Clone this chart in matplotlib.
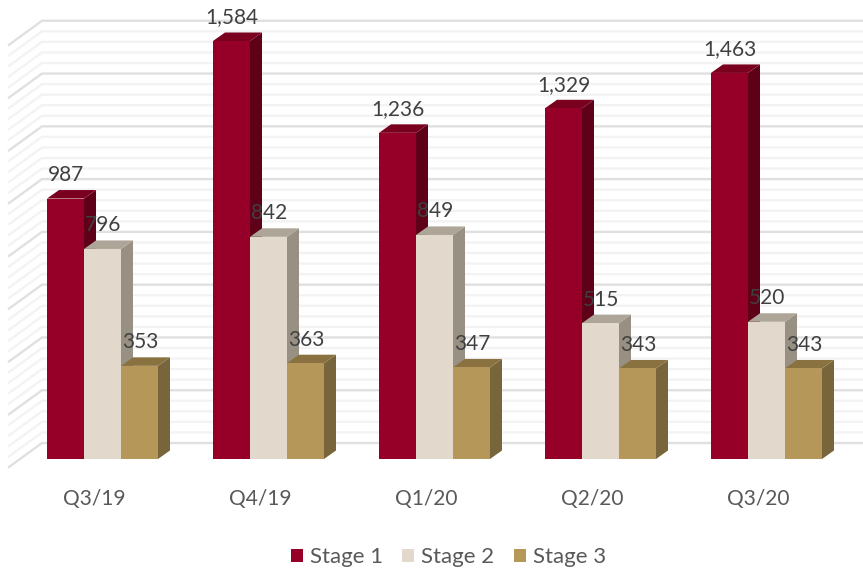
import matplotlib
matplotlib.use("Agg")
import matplotlib.pyplot as plt
from matplotlib.patches import Polygon, Patch

categories = ["Q3/19", "Q4/19", "Q1/20", "Q2/20", "Q3/20"]
series_names = ["Stage 1", "Stage 2", "Stage 3"]
stage1 = [987, 1584, 1236, 1329, 1463]
stage2 = [796, 842, 849, 515, 520]
stage3 = [353, 363, 347, 343, 343]
labels1 = ["987", "1,584", "1,236", "1,329", "1,463"]
labels2 = ["796", "842", "849", "515", "520"]
labels3 = ["353", "363", "347", "343", "343"]
series = [stage1, stage2, stage3]
series_labels = [labels1, labels2, labels3]

front = ["#960028", "#e3d8cc", "#b5975a"]
side = ["#5f0019", "#989083", "#78653c"]
top = ["#7a0020", "#ada598", "#8a7240"]

W, H = 863, 569
GROUP_PX = 166.0
PX_PER_UNIT = 418 / 1584
X0_PX = 102.5   # pixel of category 0 centre
Y0_PX = 459.0   # pixel of value 0 (front plane)

def dxp(p):
    return p / GROUP_PX

def dyp(p):
    return p / PX_PER_UNIT

plt.rcParams["font.family"] = ["Lato", "DejaVu Sans"]
fig = plt.figure(figsize=(W / 100, H / 100), dpi=100)
ax = fig.add_axes([0, 0, 1, 1])
ax.set_xlim(dxp(-X0_PX), dxp(W - X0_PX))
ax.set_ylim(dyp(-(H - Y0_PX)), dyp(Y0_PX))
ax.axis("off")

# back wall and side wall grid
wall_x = dxp(42 - X0_PX)
wall_end = dxp(W - X0_PX)
wall_left = dxp(9 - X0_PX)
back_off = dyp(16)
side_drop = dyp(24)
for v in range(0, 1601, 40):
    major = v % 200 == 0
    c = "#e0e0e0" if major else "#f3f3f3"
    y = v + back_off
    ax.plot([wall_left, wall_x, wall_end], [y - side_drop, y, y], color=c, lw=1.7,
            solid_joinstyle="miter", zorder=1 + major * 0.5)

bar_w = dxp(37)
depth_x = dxp(12)
depth_y = dyp(8.5)

for i, cat in enumerate(categories):
    for s in range(3):
        v = series[s][i]
        x = i + (s - 1.5) * bar_w
        z = 2 + s
        ax.bar(x, v, width=bar_w, align="edge", color=front[s], zorder=z + 0.2, linewidth=0)
        ax.add_patch(Polygon([(x + bar_w, 0), (x + bar_w + depth_x, depth_y),
                              (x + bar_w + depth_x, v + depth_y), (x + bar_w, v)],
                             closed=True, fc=side[s], ec="none", zorder=z + 0.1))
        ax.add_patch(Polygon([(x, v), (x + depth_x, v + depth_y),
                              (x + bar_w + depth_x, v + depth_y), (x + bar_w, v)],
                             closed=True, fc=top[s], ec="none", zorder=z + 0.1))
    ax.text(i + dxp(-8.5), dyp(-39.5), cat, ha="center", va="center", fontsize=15, color="#595959", zorder=10)

for s in range(3):
    for i in range(len(categories)):
        x = i + (s - 1) * bar_w + dxp(0.5)
        ax.text(x, series[s][i] + dyp(23.5), series_labels[s][i], ha="center", va="center",
                fontsize=15, color="#404040", zorder=10)

handles = [Patch(fc=front[s], ec="none") for s in range(3)]
ax.legend(handles, series_names, loc="center", bbox_to_anchor=(448.5 / W, 1 - 557 / H),
          ncol=3, frameon=False, fontsize=16, labelcolor="#595959",
          handlelength=0.54, handleheight=0.54, handletextpad=0.32, columnspacing=0.87)

fig.savefig("out.png", dpi=100)
